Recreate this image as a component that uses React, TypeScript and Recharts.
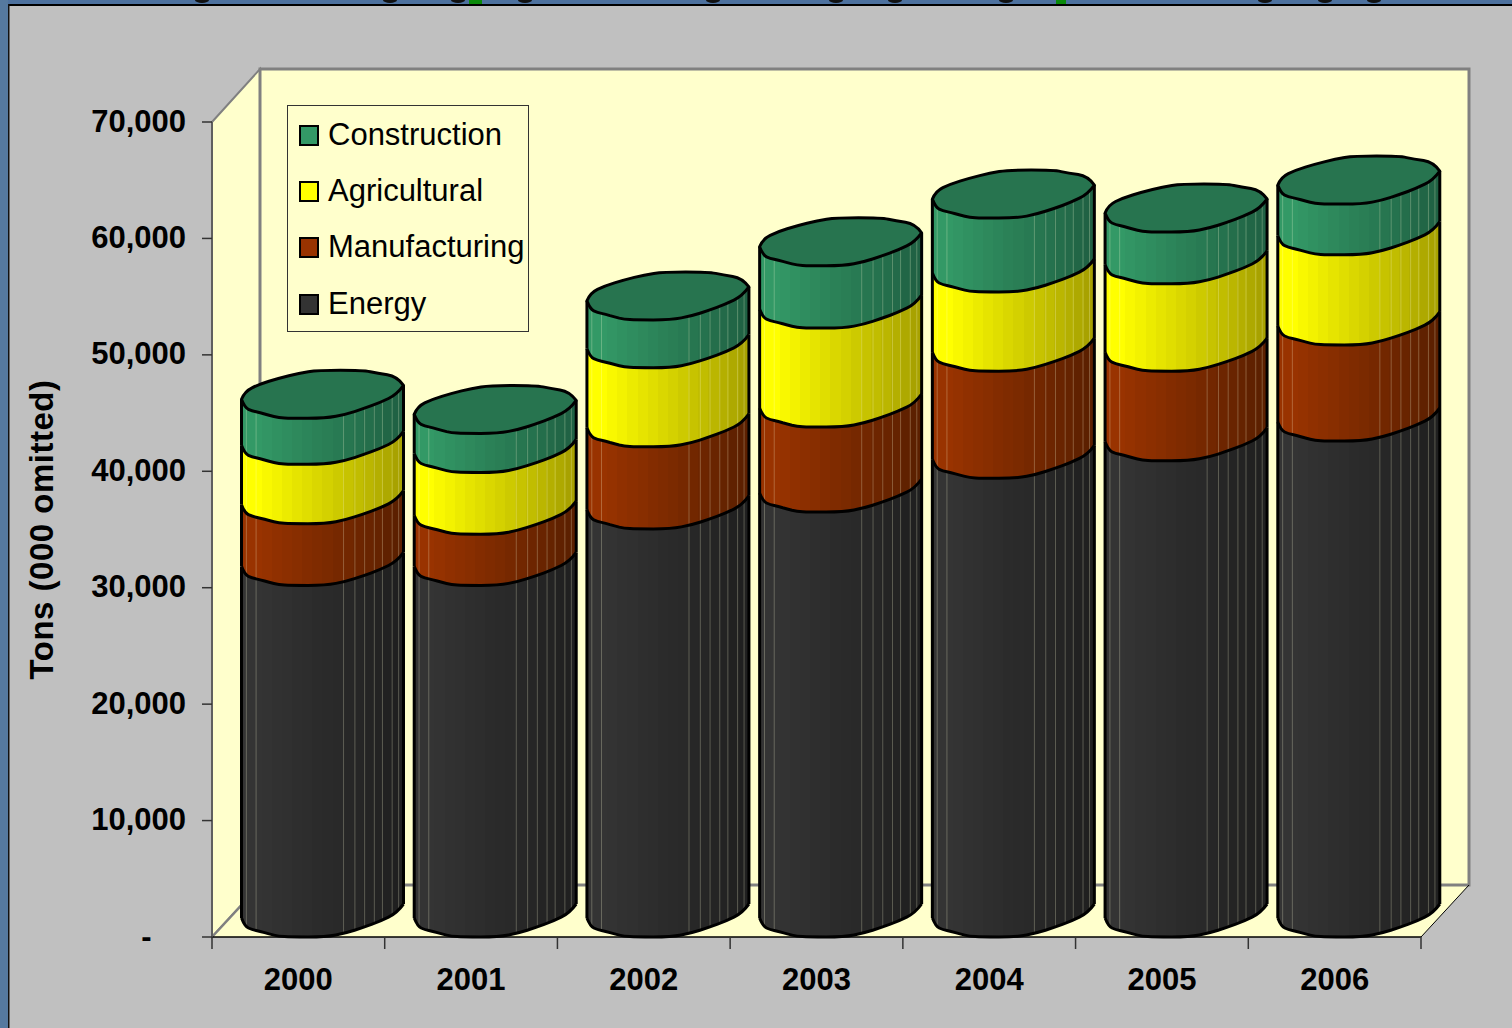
import React from 'react';
import { ComposedChart, Bar, XAxis, YAxis, Legend } from 'recharts';

const years = ['2000', '2001', '2002', '2003', '2004', '2005', '2006'];
const energy = [30200, 30200, 35050, 36500, 39400, 40900, 42600];
const manufacturing = [5300, 4400, 7050, 7300, 9200, 7700, 8250];
const agricultural = [5100, 5300, 6800, 8500, 6800, 7500, 7750];
const construction = [3950, 3350, 4100, 5350, 6350, 4450, 4350];
const yTicks = [0, 10000, 20000, 30000, 40000, 50000, 60000, 70000];
const edgeTicks = [0, 0.8571, 1.7143, 2.5714, 3.4286, 4.2857, 5.1429, 6];
const legendOrder = ['Construction', 'Agricultural', 'Manufacturing', 'Energy'];
const descenders = [202, 390, 458, 525, 713, 836, 895, 1006, 1265, 1325, 1374];

const data = years.map((year, i) => ({
  year,
  Energy: energy[i],
  Manufacturing: manufacturing[i],
  Agricultural: agricultural[i],
  Construction: construction[i],
}));

type P = [number, number];
const FRONT: P[] = [[0, 19], [0.02, 10.7], [0.065, 7.3], [0.115, 5.7], [0.17, 3], [0.23, 0.7], [0.3, 0], [0.52, 0], [0.645, 4], [0.75, 9.5], [0.855, 15.7], [0.96, 24], [1, 33]];
const BACK: P[] = [[1, 33], [0.96, 42], [0.84, 45], [0.75, 48], [0.47, 48], [0.355, 45], [0.23, 40], [0.11, 34], [0.02, 27], [0, 19]];
const LINES = [0.03, 0.09, 0.63, 0.7, 0.76, 0.82, 0.87, 0.93, 0.97];
const DX = 24.5;
const STROKE = 3;

const rimAt = (t: number) => {
  for (let i = 1; i < FRONT.length; i++) {
    if (t <= FRONT[i][0]) {
      const [a, b] = FRONT[i - 1];
      const [c, d] = FRONT[i];
      return b + ((t - a) / (c - a)) * (d - b);
    }
  }
  return 33;
};

// Rounded path through a rim, continuing from the current point.
const rimPath = (rim: P[], x: number, w: number, y: number) => {
  const p = rim.map(([t, d]) => [x + t * w, y - d]);
  let s = `L${p[0][0].toFixed(1)},${p[0][1].toFixed(1)}`;
  for (let i = 1; i < p.length - 1; i++) {
    const mx = i === p.length - 2 ? p[i + 1][0] : (p[i][0] + p[i + 1][0]) / 2;
    const my = i === p.length - 2 ? p[i + 1][1] : (p[i][1] + p[i + 1][1]) / 2;
    s += ` Q${p[i][0].toFixed(1)},${p[i][1].toFixed(1)} ${mx.toFixed(1)},${my.toFixed(1)}`;
  }
  return s;
};
const open = (s: string) => 'M' + s.slice(1);
const rev = (rim: P[]) => [...rim].reverse();

const Cyl = (props: any) => {
  const { x, y, width, height, gid, top } = props;
  const X = x + DX;
  const bottom = y + height;
  return (
    <g>
      <path d={`${open(rimPath(FRONT, X, width, y))} ${rimPath(rev(FRONT), X, width, bottom)} Z`} fill={`url(#${gid})`} stroke="none" />
      {LINES.map((t) => (
        <line
          key={t}
          x1={X + t * width}
          x2={X + t * width}
          y1={y - rimAt(t)}
          y2={bottom - rimAt(t)}
          stroke="#ffffd8"
          strokeOpacity={0.26}
          strokeWidth={1}
        />
      ))}
      <path d={open(rimPath(FRONT, X, width, bottom))} fill="none" stroke="#000" strokeWidth={STROKE} strokeLinejoin="round" />
      <line x1={X} x2={X} y1={y - 19} y2={bottom - 19} stroke="#000" strokeWidth={STROKE} />
      <line x1={X + width} x2={X + width} y1={y - 33} y2={bottom - 33} stroke="#000" strokeWidth={STROKE} />
      {top && (
        <path
          d={`${open(rimPath(FRONT, X, width, y))} ${rimPath(BACK, X, width, y)} Z`}
          fill="#27744f"
          stroke="#000"
          strokeWidth={STROKE}
          strokeLinejoin="round"
        />
      )}
    </g>
  );
};

const hex = (n: number) => Math.round(n).toString(16).padStart(2, '0');
const Facets = ({ id, from, to }: { id: string; from: number[]; to: number[] }) => {
  const n = 16;
  const stops: React.ReactNode[] = [];
  for (let i = 0; i < n; i++) {
    const k = Math.max(0, (i - 1) / (n - 2));
    const c = '#' + from.map((v, j) => hex(v + (to[j] - v) * k)).join('');
    stops.push(<stop key={`${i}a`} offset={i / n} stopColor={c} />);
    stops.push(<stop key={`${i}b`} offset={(i + 1) / n} stopColor={c} />);
  }
  return (
    <linearGradient id={id} x1="0" x2="1" y1="0" y2="0">
      {stops}
    </linearGradient>
  );
};

const LegendBox = ({ payload }: any) => (
  <div
    style={{
      position: 'absolute',
      left: 287,
      top: 105,
      width: 242,
      height: 227,
      boxSizing: 'border-box',
      border: '1px solid #333',
      background: '#ffffcc',
      fontFamily: '"Liberation Sans", Arial, sans-serif',
      fontSize: 31,
      color: '#000',
    }}
  >
    {legendOrder.map((name, i) => {
      const p = (payload || []).find((q: any) => q.value === name);
      return (
        <div key={name} style={{ position: 'absolute', left: 40, top: 10.6 + i * 56.4, lineHeight: '36px', whiteSpace: 'nowrap' }}>
          <span
            style={{
              position: 'absolute',
              left: -29,
              top: 8,
              width: 20,
              height: 21,
              boxSizing: 'border-box',
              border: '2px solid #000',
              background: p ? p.color : '#000',
            }}
          />
          {name}
        </div>
      );
    })}
  </div>
);

export default function App() {
  const font = '"Liberation Sans", Arial, sans-serif';
  const tickStyle = { fontFamily: font, fontSize: 31, fontWeight: 700, fill: '#000' };
  return (
    <div style={{ position: 'absolute', left: 0, top: 0, width: 1512, height: 1028, overflow: 'hidden', background: '#c0c0c0' }}>
      <svg width={1512} height={1028} style={{ position: 'absolute', left: 0, top: 0 }}>
        <rect x={0} y={0} width={1512} height={4} fill="#4d719e" />
        <rect x={0} y={0} width={8} height={1028} fill="#55799f" />
        <rect x={8} y={4} width={1504} height={2} fill="#000" />
        <rect x={8} y={4} width={1.5} height={1024} fill="#111" />
        {descenders.map((d) => (
          <ellipse key={d} cx={d} cy={0} rx={7} ry={3} fill="#111" />
        ))}
        <rect x={469} y={0} width={13} height={4} fill="#0a8a0a" />
        <rect x={1056} y={0} width={10} height={4} fill="#0a8a0a" />
        <polygon points="212,122 260,69 260,885 212,937" fill="#ffffcc" stroke="#808080" strokeWidth={2} />
        <polygon points="212,937 260,885 1469,885 1421,937" fill="#ffffcc" />
        <rect x={260} y={69} width={1209} height={816} fill="#ffffcc" stroke="#808080" strokeWidth={3} />
        <line x1={212} y1={937} x2={260} y2={885} stroke="#808080" strokeWidth={2.5} />
        <line x1={1421} y1={937} x2={1469} y2={885} stroke="#000" strokeWidth={1} />
      </svg>
      <div style={{ position: 'absolute', left: 0, top: 0 }}>
        <ComposedChart
          width={1512}
          height={1028}
          data={data}
          margin={{ top: 122, right: 91, bottom: 0, left: 0 }}
          barSize={162}
          style={{ background: 'transparent' }}
        >
          <defs>
            <Facets id="gEnergy" from={[0x34, 0x34, 0x34]} to={[0x20, 0x20, 0x20]} />
            <Facets id="gManu" from={[0x99, 0x33, 0x00]} to={[0x5c, 0x20, 0x00]} />
            <Facets id="gAgri" from={[0xff, 0xff, 0x00]} to={[0xa8, 0xa2, 0x00]} />
            <Facets id="gCons" from={[0x33, 0x99, 0x66]} to={[0x20, 0x62, 0x44]} />
          </defs>
          <XAxis
            xAxisId={0}
            type="number"
            scale="linear"
            domain={[0, 6]}
            ticks={edgeTicks}
            interval={0}
            tick={() => <g />}
            height={1}
            tickSize={12}
            axisLine={{ stroke: '#000', strokeWidth: 1.5 }}
            tickLine={{ stroke: '#333', strokeWidth: 1.5 }}
          />
          <XAxis xAxisId="cat" dataKey="year" height={90} axisLine={false} tickLine={false} tickSize={0} tickMargin={30} tick={tickStyle} interval={0} />
          <YAxis
            width={212}
            domain={[0, 70000]}
            ticks={yTicks}
            interval={0}
            tick={{ ...tickStyle, dy: -1.5 }}
            tickSize={10}
            tickMargin={16}
            axisLine={{ stroke: '#555', strokeWidth: 1.5 }}
            tickLine={{ stroke: '#333', strokeWidth: 1.5 }}
            tickFormatter={(v: number) => (v === 0 ? '-\u00a0\u00a0\u00a0\u00a0' : v.toLocaleString('en-US'))}
            label={{
              value: 'Tons (000 omitted)',
              angle: -90,
              position: 'insideLeft',
              offset: 41,
              style: { fontFamily: font, fontSize: 33, fontWeight: 700, letterSpacing: 0.5, fill: '#000', textAnchor: 'middle' },
            }}
          />
          <Legend layout="vertical" align="center" verticalAlign="middle" content={<LegendBox />} wrapperStyle={{ position: 'absolute', left: 0, top: 0, width: 0, height: 0 }} />
          <Bar xAxisId="cat" dataKey="Energy" name="Energy" stackId="a" fill="#333333" isAnimationActive={false} shape={(p: any) => <Cyl {...p} gid="gEnergy" />} />
          <Bar xAxisId="cat" dataKey="Manufacturing" name="Manufacturing" stackId="a" fill="#993300" isAnimationActive={false} shape={(p: any) => <Cyl {...p} gid="gManu" />} />
          <Bar xAxisId="cat" dataKey="Agricultural" name="Agricultural" stackId="a" fill="#ffff00" isAnimationActive={false} shape={(p: any) => <Cyl {...p} gid="gAgri" />} />
          <Bar xAxisId="cat" dataKey="Construction" name="Construction" stackId="a" fill="#339966" isAnimationActive={false} shape={(p: any) => <Cyl {...p} gid="gCons" top />} />
        </ComposedChart>
      </div>
    </div>
  );
}
